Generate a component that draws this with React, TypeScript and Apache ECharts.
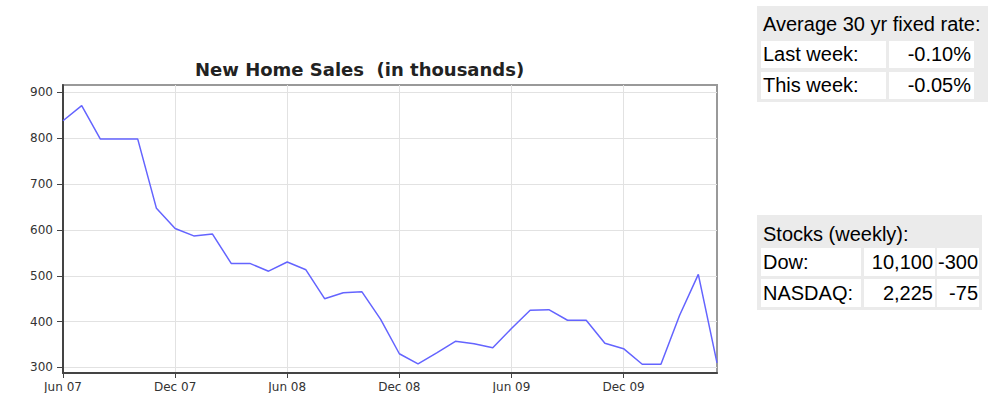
import React, { useEffect, useRef } from "react";
import * as echarts from "echarts";

const months: string[] = [
  "Jun 07", "Jul 07", "Aug 07", "Sep 07", "Oct 07", "Nov 07",
  "Dec 07", "Jan 08", "Feb 08", "Mar 08", "Apr 08", "May 08",
  "Jun 08", "Jul 08", "Aug 08", "Sep 08", "Oct 08", "Nov 08",
  "Dec 08", "Jan 09", "Feb 09", "Mar 09", "Apr 09", "May 09",
  "Jun 09", "Jul 09", "Aug 09", "Sep 09", "Oct 09", "Nov 09",
  "Dec 09", "Jan 10", "Feb 10", "Mar 10", "Apr 10", "May 10",
];

const sales: number[] = [
  838, 871, 798, 798, 798, 647,
  603, 587, 591, 527, 527, 510,
  530, 513, 450, 463, 465, 405,
  330, 308, 332, 357, 352, 343,
  385, 425, 426, 403, 403, 353,
  341, 307, 307, 414, 503, 310,
];

const yTicks: number[] = [300, 400, 500, 600, 700, 800, 900];

const chartTitle = "New Home Sales  (in thousands)";

const rateHeader = "Average 30 yr fixed rate:";
const rateLabels: string[] = ["Last week:", "This week:"];
const rateValues: string[] = ["-0.10%", "-0.05%"];

const stockHeader = "Stocks (weekly):";
const stockLabels: string[] = ["Dow:", "NASDAQ:"];
const stockLevels: string[] = ["10,100", "2,225"];
const stockChanges: string[] = ["-300", "-75"];

const tableFont = '"Liberation Sans", Arial, Helvetica, sans-serif';

function Chart() {
  const ref = useRef<HTMLDivElement>(null);
  useEffect(() => {
    if (!ref.current) return;
    const chart = echarts.init(ref.current, undefined, { renderer: "svg" });
    chart.setOption({
      animation: false,
      title: {
        text: chartTitle,
        left: 195,
        top: 60,
        padding: 0,
        textStyle: {
          fontFamily: '"DejaVu Sans", sans-serif',
          fontWeight: "bold",
          fontSize: 18,
          color: "#222",
        },
      },
      grid: {
        left: 63,
        right: 272,
        top: 85,
        bottom: 20,
        show: true,
        borderColor: "#999",
        borderWidth: 2,
        backgroundColor: "#fff",
        outerBoundsMode: "none",
        containLabel: false,
      },
      xAxis: {
        type: "category",
        data: months,
        boundaryGap: false,
        axisLine: { show: true, lineStyle: { color: "#444", width: 2 } },
        axisTick: { show: true, interval: 5, length: 5, lineStyle: { color: "#444", width: 1 } },
        axisLabel: {
          interval: 5,
          margin: 8,
          fontSize: 12,
          fontFamily: '"DejaVu Sans", sans-serif',
          color: "#333",
        },
        splitLine: { show: true, interval: 5, lineStyle: { color: "#e2e2e2", width: 1 } },
      },
      yAxis: {
        type: "value",
        min: 288,
        max: 916,
        axisLine: { show: true, lineStyle: { color: "#444", width: 2 } },
        axisTick: { show: true, length: 6, customValues: yTicks, lineStyle: { color: "#444", width: 1 } },
        axisLabel: {
          customValues: yTicks,
          margin: 10,
          fontSize: 12,
          fontFamily: '"DejaVu Sans", sans-serif',
          color: "#333",
        },
        splitLine: { show: true, lineStyle: { color: "#e2e2e2", width: 1 } },
      },
      series: [
        {
          type: "line",
          data: sales,
          showSymbol: false,
          symbol: "none",
          lineStyle: { color: "#6464ff", width: 1.5 },
          itemStyle: { color: "#6464ff" },
        },
      ],
    });
    return () => chart.dispose();
  }, []);
  return (
    <div
      ref={ref}
      style={{ position: "absolute", left: 0, top: 0, width: 989, height: 393 }}
    />
  );
}

const cell = (
  left: number,
  top: number,
  width: number,
  height: number,
  text: string,
  align: "left" | "right",
  pad: number
) => (
  <div
    key={`${left}-${top}`}
    style={{
      position: "absolute",
      left,
      top,
      width,
      height,
      background: "#fff",
      lineHeight: `${height}px`,
      textAlign: align,
      boxSizing: "border-box",
      paddingLeft: align === "left" ? pad : 0,
      paddingRight: align === "right" ? pad : 0,
      whiteSpace: "nowrap",
    }}
  >
    {text}
  </div>
);

export default function App() {
  return (
    <div
      style={{
        position: "fixed",
        left: 0,
        top: 0,
        width: 989,
        height: 393,
        background: "#fff",
        overflow: "hidden",
        fontFamily: tableFont,
        fontSize: 20,
        color: "#000",
      }}
    >
      <Chart />
      {/* Rate table */}
      <div style={{ position: "absolute", left: 757, top: 6, width: 231, height: 96, background: "#ebebeb" }} />
      <div style={{ position: "absolute", left: 763, top: 12, lineHeight: "24px", whiteSpace: "nowrap" }}>
        {rateHeader}
      </div>
      {rateLabels.map((l, i) => cell(761, 41 + i * 31, 125, 27, l, "left", 2))}
      {rateValues.map((v, i) => cell(889, 41 + i * 31, 85, 27, v, "right", 3))}
      {/* Stock table */}
      <div style={{ position: "absolute", left: 757, top: 215, width: 225, height: 95, background: "#ebebeb" }} />
      <div style={{ position: "absolute", left: 763, top: 222, lineHeight: "24px", whiteSpace: "nowrap" }}>
        {stockHeader}
      </div>
      {stockLabels.map((l, i) => cell(761, 248 + i * 31, 100, 28, l, "left", 2))}
      {stockLevels.map((v, i) => cell(864, 248 + i * 31, 71, 28, v, "right", 2))}
      {stockChanges.map((v, i) => cell(937, 248 + i * 31, 42, 28, v, "right", 1))}
    </div>
  );
}
